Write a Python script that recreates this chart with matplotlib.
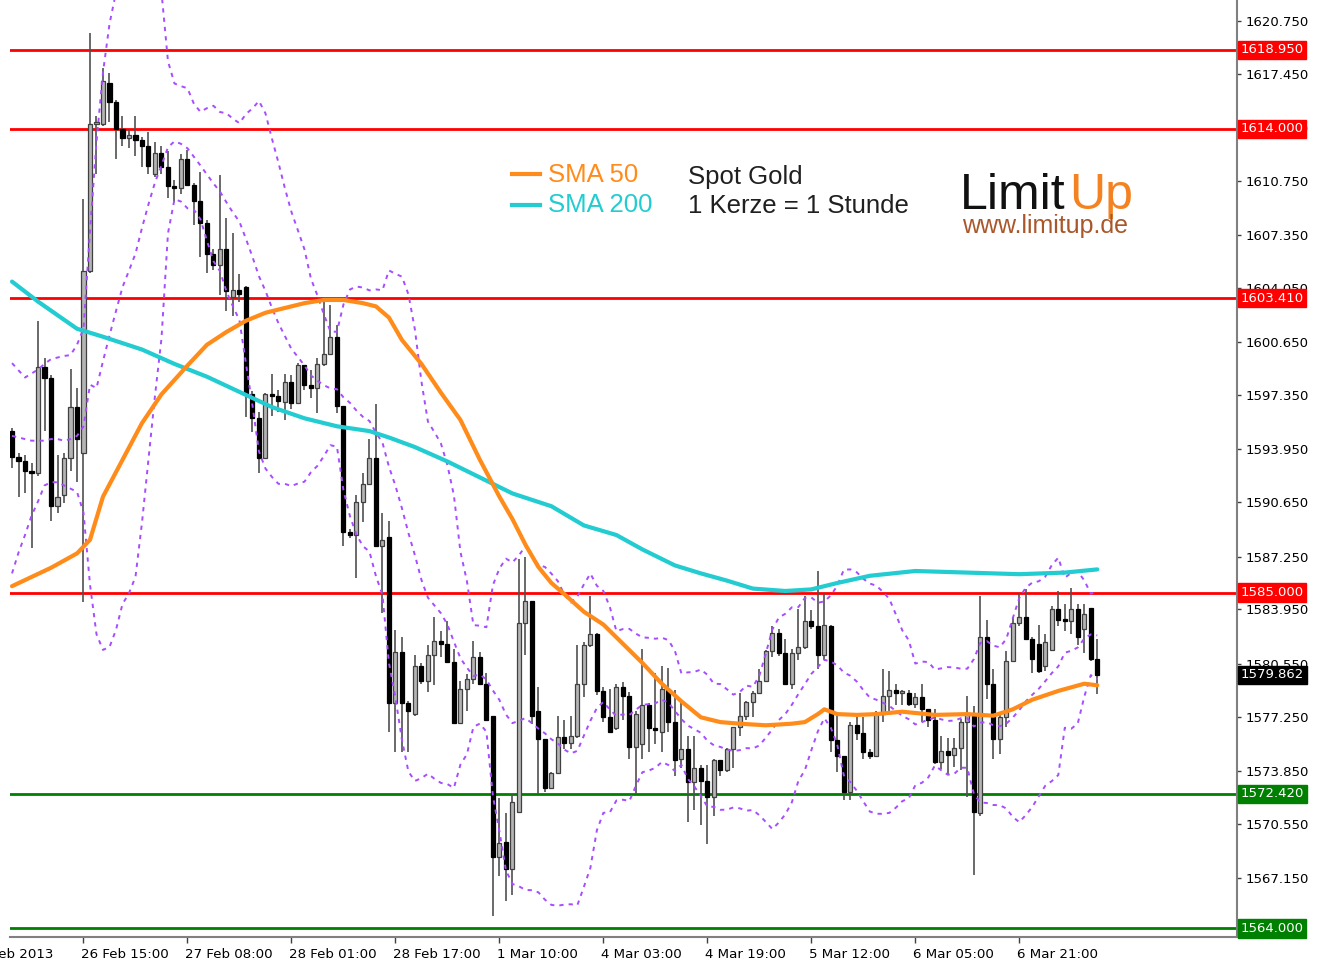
import numpy as np
import matplotlib.pyplot as plt
import matplotlib.transforms as mtransforms
from matplotlib.lines import Line2D

# hourly candles, Spot Gold
opens = [1595.1, 1593.5, 1593.2, 1592.6, 1592.5, 1599.1, 1598.4, 1590.4, 1591.1, 1593.4,
         1596.6, 1593.7, 1605.1, 1614.3, 1614.3, 1616.9, 1615.7, 1614.0, 1613.4, 1613.6,
         1613.3, 1612.9, 1611.2, 1612.5, 1611.6, 1610.4, 1610.3, 1612.1, 1610.5, 1609.5,
         1608.1, 1606.2, 1605.5, 1606.5, 1603.5, 1603.95, 1604.1, 1597.45, 1595.9, 1593.4,
         1597.45, 1597.3, 1596.9, 1598.2, 1596.85, 1599.25, 1598.0, 1597.8, 1599.3, 1599.9,
         1601.0, 1596.7, 1588.8, 1588.6, 1590.65, 1591.8, 1593.4, 1587.9, 1588.5, 1578.1,
         1581.3, 1578.1, 1577.4, 1580.4, 1579.5, 1581.1, 1582.0, 1581.8, 1580.65, 1576.85,
         1578.95, 1579.6, 1581.0, 1579.3, 1577.3, 1568.45, 1569.4, 1567.7, 1571.25, 1583.1,
         1584.45, 1577.6, 1575.85, 1572.8, 1573.7, 1575.95, 1575.6, 1576.0, 1579.3, 1581.75,
         1582.4, 1578.85, 1577.2, 1576.5, 1579.1, 1578.55, 1575.35, 1575.5, 1578.0, 1576.5,
         1576.3, 1579.0, 1576.9, 1574.6, 1575.2, 1573.15, 1574.0, 1573.2, 1572.2, 1574.5,
         1573.9, 1575.2, 1576.6, 1577.3, 1578.15, 1578.75, 1579.5, 1581.35, 1582.5, 1581.25,
         1579.3, 1581.25, 1581.6, 1583.2, 1582.9, 1581.1, 1582.9, 1575.75, 1574.8, 1572.5,
         1576.7, 1576.2, 1575.0, 1574.8, 1577.4, 1578.55, 1578.9, 1578.7, 1578.7, 1578.05,
         1578.5, 1577.7, 1577.0, 1574.4, 1575.1, 1574.85, 1575.25, 1576.9, 1577.3, 1571.2,
         1582.2, 1579.3, 1575.85, 1577.2, 1580.75, 1583.1, 1583.5, 1582.1, 1581.8, 1580.4,
         1581.4, 1583.95, 1583.3, 1583.2, 1583.95, 1582.7, 1584.05, 1580.85]
highs = [1595.3, 1593.7, 1593.6, 1593.1, 1602.0, 1599.7, 1598.6, 1593.6, 1593.7, 1599.0,
         1597.8, 1609.6, 1620.0, 1614.8, 1617.8, 1617.5, 1615.8, 1614.8, 1613.9, 1614.8,
         1613.5, 1613.8, 1613.2, 1612.9, 1612.6, 1610.8, 1612.4, 1612.7, 1610.6, 1611.3,
         1608.3, 1606.5, 1611.1, 1608.45, 1607.5, 1604.9, 1604.2, 1597.6, 1596.3, 1597.5,
         1598.7, 1597.7, 1598.7, 1598.6, 1599.35, 1599.25, 1598.9, 1599.65, 1603.4, 1603.0,
         1601.75, 1596.7, 1589.0, 1591.1, 1592.5, 1594.6, 1596.8, 1590.0, 1589.5, 1582.65,
         1582.2, 1578.2, 1581.1, 1580.6, 1581.75, 1583.45, 1582.6, 1583.2, 1581.5, 1579.5,
         1579.9, 1582.0, 1581.3, 1580.0, 1577.3, 1572.15, 1571.2, 1572.4, 1587.1, 1587.25,
         1584.45, 1579.1, 1575.85, 1573.8, 1577.3, 1577.0, 1577.3, 1581.75, 1581.9, 1584.8,
         1582.5, 1579.1, 1579.0, 1579.3, 1579.4, 1578.8, 1577.6, 1581.45, 1578.1, 1580.0,
         1580.4, 1580.3, 1578.9, 1578.3, 1576.0, 1576.0, 1574.2, 1574.2, 1574.6, 1574.5,
         1575.3, 1576.6, 1578.75, 1578.2, 1578.85, 1580.25, 1581.4, 1582.9, 1582.7, 1582.1,
         1581.45, 1584.0, 1584.8, 1583.9, 1586.35, 1585.0, 1583.0, 1577.4, 1574.8, 1576.9,
         1577.2, 1577.25, 1575.2, 1577.6, 1580.2, 1580.1, 1579.3, 1578.9, 1578.9, 1578.7,
         1579.3, 1577.7, 1577.75, 1576.0, 1575.9, 1575.9, 1577.1, 1578.55, 1577.9, 1584.8,
         1583.3, 1580.25, 1577.5, 1581.35, 1583.5, 1585.0, 1585.2, 1582.2, 1583.0, 1582.4,
         1584.15, 1585.1, 1584.3, 1585.3, 1584.3, 1584.3, 1584.05, 1582.1]
lows = [1592.8, 1591.0, 1591.2, 1587.8, 1592.3, 1595.1, 1589.5, 1590.0, 1590.6, 1592.6,
        1591.9, 1584.4, 1605.0, 1611.2, 1614.2, 1614.4, 1612.1, 1612.9, 1612.8, 1612.3,
        1611.6, 1611.2, 1611.0, 1611.2, 1609.7, 1609.5, 1609.9, 1610.4, 1608.0, 1606.0,
        1605.0, 1605.2, 1603.6, 1602.6, 1602.3, 1603.2, 1596.0, 1595.05, 1592.45, 1593.4,
        1596.05, 1596.3, 1595.8, 1596.5, 1596.85, 1597.7, 1597.2, 1596.2, 1599.2, 1599.9,
        1596.2, 1587.9, 1588.4, 1585.9, 1589.4, 1591.7, 1587.9, 1583.75, 1576.3, 1575.05,
        1575.05, 1575.05, 1577.3, 1579.3, 1578.8, 1579.2, 1581.0, 1580.6, 1576.85, 1576.85,
        1577.6, 1579.3, 1579.2, 1577.05, 1564.8, 1567.25, 1565.7, 1566.1, 1571.25, 1581.1,
        1576.75, 1572.4, 1572.5, 1572.7, 1573.7, 1575.2, 1575.2, 1575.9, 1578.5, 1581.6,
        1578.6, 1576.9, 1576.2, 1576.4, 1577.0, 1574.6, 1572.4, 1574.6, 1575.0, 1575.5,
        1575.0, 1576.3, 1573.55, 1574.0, 1570.65, 1571.4, 1570.45, 1569.3, 1571.0, 1573.5,
        1573.8, 1574.0, 1576.0, 1577.0, 1577.2, 1578.75, 1579.4, 1580.95, 1581.05, 1579.2,
        1579.0, 1580.8, 1581.5, 1582.7, 1580.2, 1580.8, 1575.0, 1573.8, 1572.0, 1572.0,
        1575.8, 1574.6, 1574.6, 1574.8, 1576.9, 1577.6, 1578.0, 1578.0, 1577.9, 1577.8,
        1576.9, 1576.6, 1574.3, 1573.95, 1573.6, 1574.1, 1573.9, 1572.2, 1567.35, 1571.0,
        1578.35, 1574.6, 1574.9, 1576.6, 1580.75, 1582.9, 1582.1, 1580.0, 1580.0, 1580.1,
        1581.4, 1582.9, 1582.6, 1582.4, 1581.7, 1581.2, 1580.75, 1578.65]
closes = [1593.5, 1593.2, 1592.6, 1592.5, 1599.1, 1598.4, 1590.4, 1591.0, 1593.4, 1596.6,
          1594.6, 1605.1, 1614.3, 1614.4, 1617.0, 1615.7, 1614.0, 1613.4, 1613.6, 1613.3,
          1612.9, 1611.7, 1612.5, 1611.6, 1610.4, 1610.3, 1612.1, 1610.5, 1609.5, 1608.1,
          1606.2, 1605.5, 1606.5, 1603.85, 1603.95, 1603.7, 1597.45, 1595.9, 1593.4, 1597.45,
          1597.3, 1597.0, 1598.2, 1596.85, 1599.25, 1598.0, 1597.8, 1599.3, 1599.9, 1601.0,
          1596.7, 1588.8, 1588.6, 1590.65, 1591.8, 1593.4, 1587.9, 1588.3, 1578.1, 1581.3,
          1578.1, 1577.6, 1580.4, 1579.5, 1581.1, 1582.0, 1581.8, 1580.65, 1576.85, 1578.95,
          1579.6, 1581.0, 1579.3, 1577.05, 1568.45, 1569.35, 1567.7, 1571.9, 1583.1, 1584.45,
          1577.3, 1575.85, 1572.8, 1573.7, 1575.95, 1575.6, 1576.0, 1579.3, 1581.75, 1582.4,
          1578.85, 1577.2, 1576.3, 1579.1, 1578.55, 1575.35, 1577.4, 1578.0, 1576.5, 1576.4,
          1579.0, 1576.9, 1574.5, 1575.2, 1573.15, 1574.0, 1573.2, 1572.2, 1574.5, 1573.9,
          1575.2, 1576.6, 1577.3, 1578.15, 1578.75, 1579.5, 1581.35, 1582.5, 1581.25, 1579.3,
          1581.25, 1581.6, 1583.2, 1582.9, 1581.1, 1583.0, 1575.75, 1574.8, 1572.5, 1576.7,
          1576.2, 1575.0, 1574.8, 1577.4, 1578.55, 1578.9, 1578.7, 1578.7, 1578.05, 1578.5,
          1577.7, 1577.0, 1574.4, 1575.1, 1574.85, 1575.25, 1576.9, 1577.4, 1571.3, 1582.2,
          1579.3, 1575.85, 1577.2, 1580.75, 1583.1, 1583.5, 1582.1, 1580.85, 1580.1, 1581.9,
          1583.95, 1583.3, 1583.2, 1583.95, 1582.2, 1583.65, 1580.85, 1579.862]

# moving averages, sampled at some bars
sma50_bar = [0, 6, 10, 12, 14, 17, 20, 23, 25, 27, 30, 33, 36, 39, 42, 45, 48, 51, 54, 56,
             58, 60, 63, 66, 69, 72, 75, 77, 79, 81, 83, 85, 88, 91, 94, 97, 100, 103, 106,
             109, 112, 116, 120, 122, 124, 125, 127, 130, 133, 137, 142, 147, 151, 154, 157,
             161, 165, 167]
sma50_val = [1585.4, 1586.55, 1587.45, 1588.3, 1591.0, 1593.3, 1595.6, 1597.4, 1598.3, 1599.2,
             1600.5, 1601.3, 1602.0, 1602.5, 1602.8, 1603.1, 1603.3, 1603.3, 1603.1, 1602.9,
             1602.2, 1600.8, 1599.3, 1597.5, 1595.8, 1593.3, 1591.0, 1589.6, 1588.0, 1586.6,
             1585.6, 1584.9, 1583.8, 1583.0, 1581.8, 1580.6, 1579.3, 1578.2, 1577.2, 1576.9,
             1576.8, 1576.7, 1576.8, 1576.9, 1577.4, 1577.7, 1577.4, 1577.35, 1577.4, 1577.55,
             1577.35, 1577.4, 1577.3, 1577.7, 1578.3, 1578.85, 1579.3, 1579.2]
sma200_bar = [0, 4, 10, 14, 20, 25, 30, 35, 40, 45, 50, 55, 58, 62, 67, 72, 77, 83, 88, 93,
              97, 102, 106, 110, 114, 119, 123, 127, 132, 139, 147, 155, 162, 167]
sma200_val = [1604.45, 1603.2, 1601.5, 1601.0, 1600.2, 1599.3, 1598.5, 1597.55, 1596.6, 1595.9,
              1595.4, 1595.1, 1594.7, 1594.1, 1593.2, 1592.2, 1591.2, 1590.4, 1589.2, 1588.6,
              1587.7, 1586.7, 1586.2, 1585.75, 1585.25, 1585.1, 1585.2, 1585.6, 1586.05, 1586.35,
              1586.25, 1586.15, 1586.25, 1586.45]

# Bollinger bands (14, 2): the first bars are read off the chart,
# the rest follows from the closes above
bb_period = 14
bb_head_upper = [1599.35, 1598.9, 1598.45, 1598.7, 1598.95, 1599.3, 1599.6, 1599.7, 1599.8,
                 1599.85, 1600.5, 1601.5, 1607.6]
bb_head_mid = [1594.8, 1594.7, 1594.6, 1594.5, 1594.5, 1594.5, 1594.6, 1594.6, 1594.5,
               1594.6, 1594.8, 1595.4, 1598.0]
bb_head_lower = [1586.2, 1587.5, 1588.6, 1589.8, 1590.7, 1591.7, 1591.9, 1591.9, 1591.7,
                 1591.5, 1591.3, 1590.0, 1585.5]

red_levels = [1618.95, 1614.0, 1603.41, 1585.0]
green_levels = [1572.42, 1564.0]
last_price = 1579.862

ytick_vals = [1620.75, 1617.45, 1614.05, 1610.75, 1607.35, 1604.05, 1600.65, 1597.35,
              1593.95, 1590.65, 1587.25, 1583.95, 1580.55, 1577.25, 1573.85, 1570.55, 1567.15]
xtick_bars = [11, 27, 43, 59, 75, 91, 107, 123, 139, 155]
xtick_text = ['26 Feb 15:00', '27 Feb 08:00', '28 Feb 01:00', '28 Feb 17:00', '1 Mar 10:00',
              '4 Mar 03:00', '4 Mar 19:00', '5 Mar 12:00', '6 Mar 05:00', '6 Mar 21:00']

W, H = 1325, 964
fig = plt.figure(figsize=(W / 100, H / 100), dpi=100)
ax = fig.add_axes([10 / W, 27 / H, 1227 / W, 937 / H])

o = np.array(opens); h = np.array(highs); l = np.array(lows); c = np.array(closes)
n = len(c)
idx = np.arange(n)

# bands
mid = np.full(n, np.nan); up = np.full(n, np.nan); lo = np.full(n, np.nan)
k = len(bb_head_mid)
mid[:k] = bb_head_mid; up[:k] = bb_head_upper; lo[:k] = bb_head_lower
for i in range(bb_period - 1, n):
    w = c[i - bb_period + 1:i + 1]
    mid[i] = w.mean()
    s = w.std()
    up[i] = mid[i] + 2 * s
    lo[i] = mid[i] - 2 * s

for lv in red_levels:
    ax.axhline(lv, color='#ff0000', lw=2, zorder=1)
for lv in green_levels:
    ax.axhline(lv, color='#008000', lw=2, zorder=1)

bull = c >= o
ax.vlines(idx, l, h, color='#505050', lw=1.2, zorder=3)
body_lo = np.minimum(o, c)
body_h = np.maximum(np.abs(c - o), 0.12)
ax.bar(idx[bull], body_h[bull], bottom=body_lo[bull], width=0.62, color='#b4b4b4',
       edgecolor='#404040', linewidth=0.9, zorder=4)
ax.bar(idx[~bull], body_h[~bull], bottom=body_lo[~bull], width=0.62, color='#000000',
       edgecolor='#000000', linewidth=0.9, zorder=4)

for arr in (up, mid, lo):
    ax.plot(idx, arr, color='#a64dff', lw=1.4, ls=(0, (2.2, 2.6)), zorder=5)

ax.plot(sma200_bar, sma200_val, color='#22ccd0', lw=3, zorder=6, solid_capstyle='round')
ax.plot(sma50_bar, sma50_val, color='#ff8c1a', lw=3, zorder=6, solid_capstyle='round')

ax.set_xlim(-0.31, 188.5)
ax.set_ylim(1563.46, 1622.06)

for s in ['left', 'top']:
    ax.spines[s].set_visible(False)
for s in ['right', 'bottom']:
    ax.spines[s].set_color('#808080')
    ax.spines[s].set_linewidth(1.5)

ax.yaxis.tick_right()
ax.set_yticks(ytick_vals)
ax.set_yticklabels(['%.3f' % v for v in ytick_vals])
ax.tick_params(axis='y', length=3, width=1, color='#404040', labelsize=9.5, pad=3)
ax.set_xticks(xtick_bars)
ax.set_xticklabels([])
ax.tick_params(axis='x', length=4, width=1, color='#404040')

# time labels, left aligned at each tick like MT4
for b, t in zip(xtick_bars, xtick_text):
    ax.annotate(t, (b, 0), xycoords=('data', 'axes fraction'), xytext=(-2, -8),
                textcoords='offset points', ha='left', va='top', fontsize=9.6)
fig.text(-30 / W, 10 / H, '26 Feb 2013', ha='left', va='center', fontsize=9.6)

trans = mtransforms.blended_transform_factory(ax.transAxes, ax.transData)
def price_box(v, fc, txt):
    ax.text(1.003, v, txt, transform=trans, ha='left', va='center', fontsize=9.5,
            color='white', zorder=10,
            bbox=dict(boxstyle='square,pad=0.2', fc=fc, ec=fc))

for lv in red_levels:
    price_box(lv, '#ff0000', '%.3f' % lv)
for lv in green_levels:
    price_box(lv, '#008000', '%.3f' % lv)
price_box(last_price, '#000000', '%.3f' % last_price)

# legend and captions
fig.add_artist(Line2D([512 / W, 540 / W], [1 - 174 / H] * 2, color='#ff8c1a', lw=3))
fig.add_artist(Line2D([512 / W, 540 / W], [1 - 205 / H] * 2, color='#22ccd0', lw=3))
fig.text(548 / W, 1 - 175 / H, 'SMA 50', color='#ff8c1a', fontsize=18.5, va='center',
         family='Liberation Sans')
fig.text(548 / W, 1 - 205 / H, 'SMA 200', color='#22ccd0', fontsize=18.5, va='center',
         family='Liberation Sans')
fig.text(688 / W, 1 - 177 / H, 'Spot Gold', color='#202020', fontsize=18.5, va='center',
         family='Liberation Sans')
fig.text(688 / W, 1 - 206 / H, '1 Kerze = 1 Stunde', color='#202020', fontsize=18.5,
         va='center', family='Liberation Sans')

# logo
fig.text(960 / W, 1 - 209 / H, 'Limit', color='#111111', fontsize=36, va='baseline',
         family='Liberation Sans')
fig.text(1069 / W, 1 - 209 / H, 'Up', color='#f58220', fontsize=36, va='baseline',
         family='Liberation Sans')
fig.text(962 / W, 1 - 226 / H, 'www.limitup.de', color='#a9572a', fontsize=18,
         va='center', family='Liberation Sans')

fig.savefig('out.png', dpi=100)
